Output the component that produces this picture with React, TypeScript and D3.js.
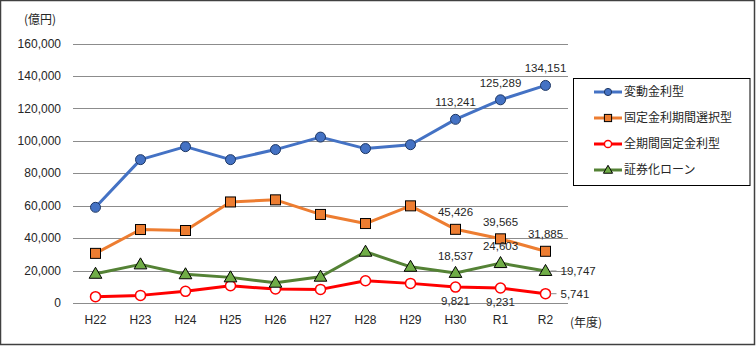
import React from "react";
import * as d3 from "d3";

const categories = ["H22", "H23", "H24", "H25", "H26", "H27", "H28", "H29", "H30", "R1", "R2"];
const yTicks = [0, 20000, 40000, 60000, 80000, 100000, 120000, 140000, 160000];

const hendoValues = [59000, 88400, 96400, 88400, 94600, 102300, 95200, 97600, 113241, 125289, 134151];
const koteiKikanValues = [30600, 45300, 44700, 62300, 63600, 54600, 49000, 59900, 45426, 39565, 31885];
const zenKikanValues = [3900, 4700, 7200, 10600, 8600, 8400, 13700, 12100, 9821, 9231, 5741];
const shokenValues = [18000, 23800, 17700, 15800, 12500, 16200, 31600, 22300, 18537, 24603, 19747];

const seriesNames = ["変動金利型", "固定金利期間選択型", "全期間固定金利型", "証券化ローン"];

type Place = "above" | "below" | "right" | null;

const W = 756;
const H = 346;
const fmt = d3.format(",");

const series = [
  {
    name: seriesNames[0],
    values: hendoValues,
    color: "#4472C4",
    marker: "circle",
    fill: "#4472C4",
    mstroke: "#1F3864",
    labels: [null, null, null, null, null, null, null, null, "above", "above", "above"] as Place[],
  },
  {
    name: seriesNames[1],
    values: koteiKikanValues,
    color: "#ED7D31",
    marker: "square",
    fill: "#ED7D31",
    mstroke: "#000000",
    labels: [null, null, null, null, null, null, null, null, "above", "above", "above"] as Place[],
  },
  {
    name: seriesNames[2],
    values: zenKikanValues,
    color: "#FF0000",
    marker: "ocircle",
    fill: "#FFFFFF",
    mstroke: "#FF0000",
    labels: [null, null, null, null, null, null, null, null, "below", "below", "right"] as Place[],
  },
  {
    name: seriesNames[3],
    values: shokenValues,
    color: "#548235",
    marker: "triangle",
    fill: "#70AD47",
    mstroke: "#000000",
    labels: [null, null, null, null, null, null, null, null, "above", "above", "right"] as Place[],
  },
];

const NUM_FONT = "'Liberation Sans', Arial, sans-serif";
const JP_FONT = "'Noto Sans CJK JP', 'Noto Sans', sans-serif";
const TEXT = "#262626";

function Marker({ type, x, y, fill, stroke, s = 1 }: { type: string; x: number; y: number; fill: string; stroke: string; s?: number }) {
  if (type === "circle") return <circle cx={x} cy={y} r={5 * s} fill={fill} stroke={stroke} strokeWidth={1} />;
  if (type === "ocircle") return <circle cx={x} cy={y} r={5 * s} fill={fill} stroke={stroke} strokeWidth={1.5} />;
  if (type === "square") return <rect x={x - 5 * s} y={y - 5 * s} width={10 * s} height={10 * s} fill={fill} stroke={stroke} strokeWidth={1} />;
  const tri = d3.symbol(d3.symbolTriangle, 70 * s * s)() as string;
  return <path d={tri} transform={`translate(${x},${y + 0.8 * s})`} fill={fill} stroke={stroke} strokeWidth={1} />;
}

export default function App() {
  const x = d3.scalePoint<string>().domain(categories).range([73, 568]).padding(0.5);
  const y = d3.scaleLinear().domain([0, 160000]).range([303, 43.5]);
  const line = d3
    .line<number>()
    .x((_, i) => x(categories[i]) as number)
    .y((d) => y(d));

  const legendY = [92, 118, 144, 170];

  return (
    <svg width={W} height={H} style={{ position: "absolute", left: 0, top: 0, background: "#fff" }}>
      <rect x={0.5} y={0.5} width={W - 2} height={H - 2} fill="#fff" stroke="#404040" strokeWidth={1.5} />
      {/* gridlines */}
      {yTicks.map((t) => (
        <line key={t} x1={73} x2={568} y1={Math.round(y(t)) + 0.5} y2={Math.round(y(t)) + 0.5} stroke="#8C8C8C" strokeWidth={1} />
      ))}
      {/* y labels */}
      {yTicks.map((t) => (
        <text key={"l" + t} x={61} y={y(t)} dy="0.35em" textAnchor="end" fontFamily={NUM_FONT} fontSize={12} fill={TEXT}>
          {fmt(t)}
        </text>
      ))}
      <text x={24} y={20} dy="0.35em" fontFamily={JP_FONT} fontSize={12} fill={TEXT}>
        (億円)
      </text>
      {/* x labels */}
      {categories.map((c) => (
        <text key={c} x={x(c)} y={320} dy="0.35em" textAnchor="middle" fontFamily={NUM_FONT} fontSize={12} fill={TEXT}>
          {c}
        </text>
      ))}
      <text x={570} y={323} dy="0.35em" fontFamily={JP_FONT} fontSize={12} fill={TEXT}>
        (年度)
      </text>
      {/* series */}
      {series.map((s) => (
        <g key={s.name}>
          <path d={line(s.values) as string} fill="none" stroke={s.color} strokeWidth={3} strokeLinejoin="round" />
          {s.values.map((v, i) => (
            <Marker key={i} type={s.marker} x={x(categories[i]) as number} y={y(v)} fill={s.fill} stroke={s.mstroke} />
          ))}
        </g>
      ))}
      {/* data labels */}
      {series.map((s) =>
        s.values.map((v, i) => {
          const p = s.labels[i];
          if (!p) return null;
          const cx = x(categories[i]) as number;
          const cy = y(v);
          if (p === "above")
            return (
              <text key={s.name + i} x={cx} y={cy - 13} textAnchor="middle" fontFamily={NUM_FONT} fontSize={11.5} fill={TEXT}>
                {fmt(v)}
              </text>
            );
          if (p === "below")
            return (
              <text key={s.name + i} x={cx} y={cy + 14} dy="0.35em" textAnchor="middle" fontFamily={NUM_FONT} fontSize={11.5} fill={TEXT}>
                {fmt(v)}
              </text>
            );
          return (
            <g key={s.name + i}>
              <line x1={cx + 5} x2={cx + 11} y1={cy} y2={cy} stroke="#8C8C8C" strokeWidth={1} />
              <text x={cx + 15} y={cy} dy="0.35em" fontFamily={NUM_FONT} fontSize={11.5} fill={TEXT}>
                {fmt(v)}
              </text>
            </g>
          );
        })
      )}
      {/* legend */}
      <rect x={573.5} y={78.5} width={176.5} height={107} fill="#fff" stroke="#000" strokeWidth={1} />
      {series.map((s, i) => (
        <g key={"lg" + s.name}>
          <line x1={594} x2={622} y1={legendY[i]} y2={legendY[i]} stroke={s.color} strokeWidth={3} />
          <Marker type={s.marker} x={608} y={legendY[i]} fill={s.fill} stroke={s.mstroke} s={0.72} />
          <text x={624} y={legendY[i]} dy="0.35em" fontFamily={JP_FONT} fontSize={12} fill={TEXT}>
            {s.name}
          </text>
        </g>
      ))}
    </svg>
  );
}
